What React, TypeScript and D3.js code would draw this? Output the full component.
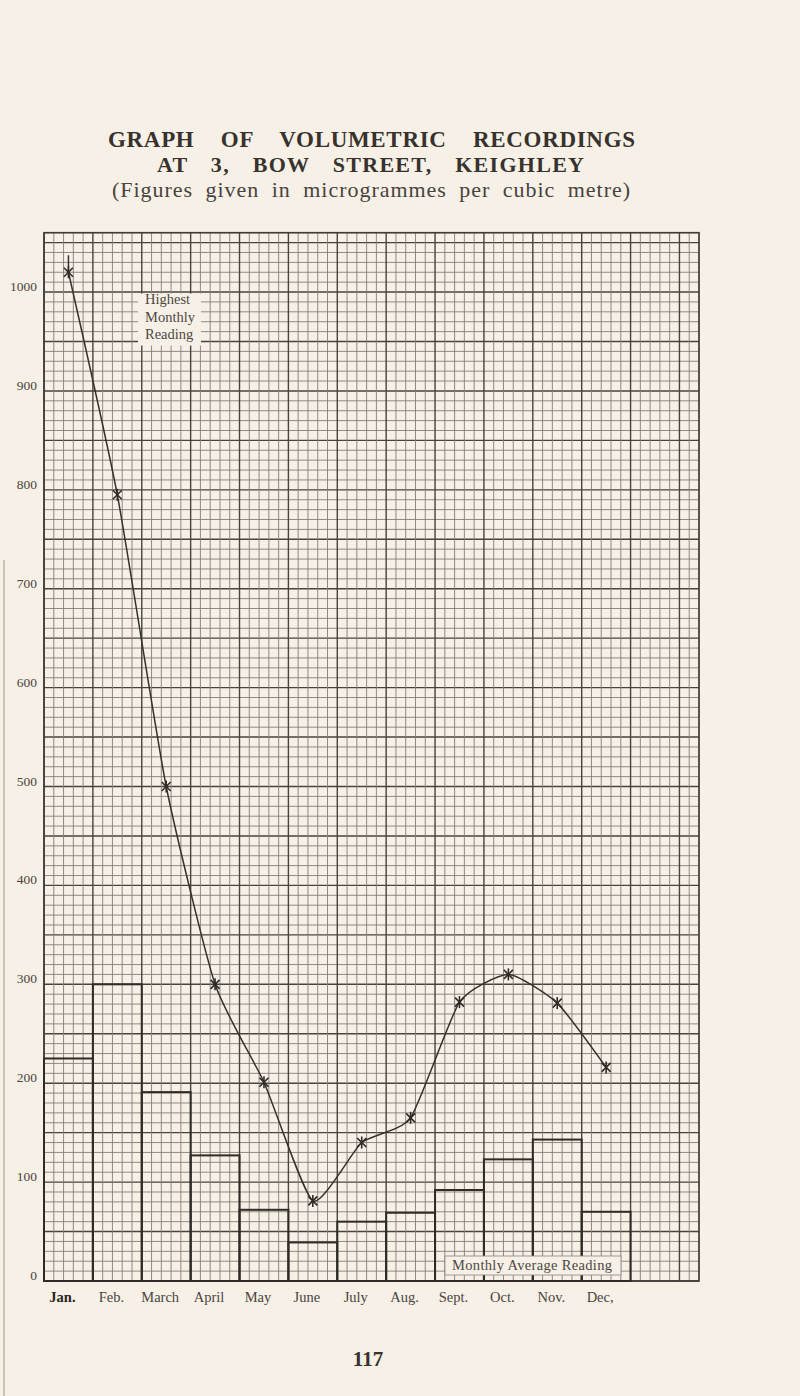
import React from "react";
import * as d3 from "d3";

const months = ["Jan.", "Feb.", "March", "April", "May", "June", "July", "Aug.", "Sept.", "Oct.", "Nov.", "Dec,"];
const highestReading = [1020, 795, 500, 300, 201, 81, 140, 165, 282, 310, 281, 216];
const averageReading = [225, 300, 191, 127, 72, 39, 60, 69, 92, 123, 143, 70];
const yTicks = [0, 100, 200, 300, 400, 500, 600, 700, 800, 900, 1000];
const titleLines = [
  "GRAPH OF VOLUMETRIC RECORDINGS",
  "AT 3, BOW STREET, KEIGHLEY",
  "(Figures given in microgrammes per cubic metre)",
];
const legendHighest = ["Highest", "Monthly", "Reading"];
const legendAverage = "Monthly Average Reading";
const pageNumber = "117";

const W = 800;
const H = 1396;
const SERIF = "'Liberation Serif', 'Times New Roman', serif";
const PAPER = "#f6f0e6";
const INK = "#37322d";

const MINOR_X = 67; // graph paper columns
const PER_MONTH = 5;
const Y_MAX = 1060;

export default function App() {
  const xm = d3.scaleLinear().domain([0, MINOR_X]).range([44, 699]);
  const xMonth = (m: number) => xm(m * PER_MONTH);
  const y = d3.scaleLinear().domain([0, Y_MAX]).range([1281, 232.7]);

  const x0 = xm(0), x1 = xm(MINOR_X);
  const yTop = y(Y_MAX), yBot = y(0);

  const vLines = d3.range(0, MINOR_X + 1);
  const hLines = d3.range(0, Y_MAX + 1, 10);

  const pts: [number, number][] = highestReading.map((v, i) => [xMonth(i + 0.5), y(v)]);
  const line = d3.line().curve(d3.curveCardinal.tension(0.45));
  const pathD = line(pts) || "";

  return (
    <svg width={W} height={H} style={{ display: "block", position: "absolute", left: 0, top: 0 }}>
      <rect x={0} y={0} width={W} height={H} fill={PAPER} />
      <line x1={4} x2={4} y1={560} y2={H} stroke="#bdb5a9" strokeWidth={1.5} />

      {/* title */}
      <text x={108} y={147} fontFamily={SERIF} fontWeight={700} fontSize={23} fill={INK}
        style={{ wordSpacing: "20px" }} textLength={527} lengthAdjust="spacing">{titleLines[0]}</text>
      <text x={157} y={172} fontFamily={SERIF} fontWeight={700} fontSize={22} fill={INK}
        style={{ wordSpacing: "16px" }} textLength={427} lengthAdjust="spacing">{titleLines[1]}</text>
      <text x={112} y={197} fontFamily={SERIF} fontSize={22} fill="#48433e"
        style={{ wordSpacing: "6px" }} textLength={518} lengthAdjust="spacing">{titleLines[2]}</text>

      {/* graph paper */}
      <g>
        {hLines.map((v) => {
          const heavy = v % 50 === 0;
          return (
            <line key={"h" + v} x1={x0} x2={x1} y1={y(v)} y2={y(v)}
              stroke={heavy ? "#48433e" : "#847e77"} strokeWidth={heavy ? 1.4 : 0.9} />
          );
        })}
        {vLines.map((i) => {
          const heavy = i % PER_MONTH === 0;
          return (
            <line key={"v" + i} x1={xm(i)} x2={xm(i)} y1={yTop} y2={yBot}
              stroke={heavy ? "#48433e" : "#847e77"} strokeWidth={heavy ? 1.4 : 0.9} />
          );
        })}
        <rect x={x0} y={yTop} width={x1 - x0} height={yBot - yTop} fill="none" stroke="#3e3a35" strokeWidth={1.6} />
      </g>

      {/* monthly average bars */}
      <g>
        {averageReading.map((v, i) => (
          <rect key={"b" + i} x={xMonth(i)} y={y(v)} width={xMonth(i + 1) - xMonth(i)} height={y(0) - y(v)}
            fill="none" stroke="#2f2b27" strokeWidth={2} />
        ))}
      </g>

      {/* legend patches */}
      <rect x={138} y={y(1000) + 1.5} width={63} height={52} fill={PAPER} />
      {legendHighest.map((t, i) => (
        <text key={"lh" + i} x={145} y={304 + i * 17.5} fontFamily={SERIF} fontSize={14.5} fill="#4d4843">{t}</text>
      ))}

      <rect x={445} y={1256} width={176} height={19} fill={PAPER} stroke="#8a847c" strokeWidth={0.8} />
      <text x={452} y={1270} fontFamily={SERIF} fontSize={14.5} fill="#4d4843" textLength={160} lengthAdjust="spacing">{legendAverage}</text>

      {/* highest monthly reading curve */}
      <path d={pathD} fill="none" stroke="#35312c" strokeWidth={1.5} />
      <line x1={pts[0][0]} x2={pts[0][0]} y1={pts[0][1]} y2={pts[0][1] - 17} stroke="#35312c" strokeWidth={1.5} />
      {pts.map(([px, py], i) => (
        <g key={"m" + i} stroke="#2f2b27" strokeWidth={1.6}>
          <line x1={px - 4.5} x2={px + 4.5} y1={py - 4.5} y2={py + 4.5} />
          <line x1={px - 4.5} x2={px + 4.5} y1={py + 4.5} y2={py - 4.5} />
          <line x1={px} x2={px} y1={py - 6} y2={py + 6} />
        </g>
      ))}

      {/* y axis labels */}
      {yTicks.map((v) => (
        <text key={"yt" + v} x={37} y={y(v) - 1} textAnchor="end" fontFamily={SERIF} fontSize={13.5} fill="#4a4540">{v}</text>
      ))}

      {/* month labels */}
      {months.map((m, i) => (
        <text key={"xl" + i} x={xMonth(i + 0.5) - 6} y={1302} textAnchor="middle" fontFamily={SERIF}
          fontSize={14.5} fontWeight={i === 0 ? 700 : 400} fill={i === 0 ? "#2a2622" : "#4a4540"}>{m}</text>
      ))}

      {/* page number */}
      <text x={368} y={1366} textAnchor="middle" fontFamily={SERIF} fontSize={21} fontWeight={700} fill={INK}>{pageNumber}</text>
    </svg>
  );
}
